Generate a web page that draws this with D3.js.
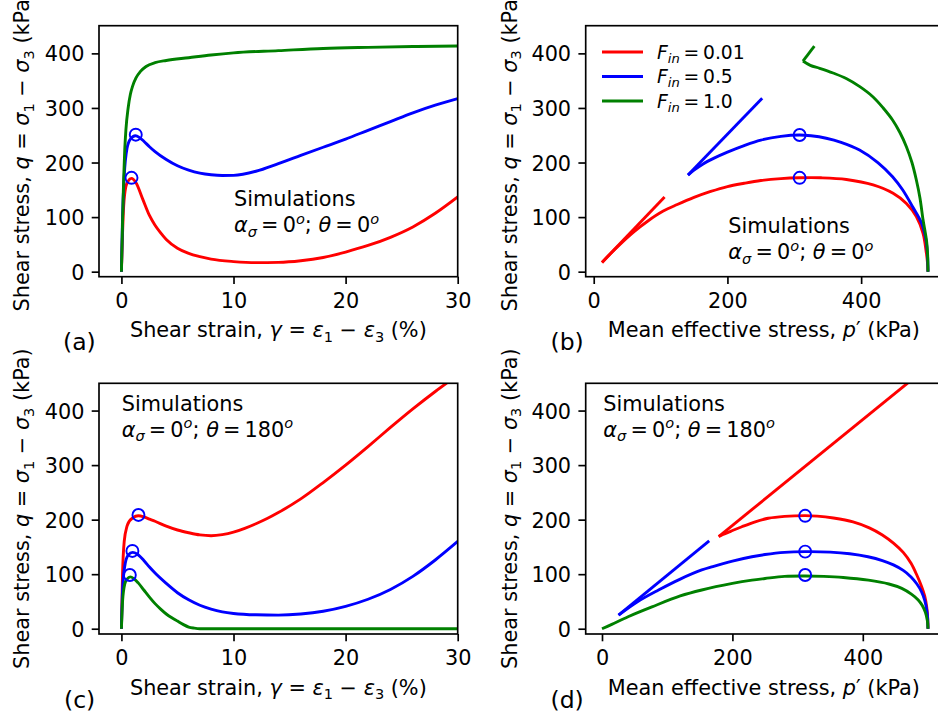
<!DOCTYPE html>
<html>
<head>
<meta charset="utf-8">
<script src="https://d3js.org/d3.v7.min.js"></script>
<style>
  body { margin: 0; background: #fff; }
  text { font-family: "DejaVu Sans", sans-serif; fill: #000; }
</style>
</head>
<body>
<svg id="chart" width="938" height="720"></svg>
<script>
//////////////////////////////////////////////
// Data //////////////////////////////////////
//////////////////////////////////////////////
var finValues = ["0.01", "0.5", "1.0"];
var qTicks = [0, 100, 200, 300, 400];
var strainTicks = [0, 10, 20, 30];
var pTicks = [0, 200, 400];

// (a) theta = 0, q vs shear strain
var strainA_red = [0, 0.1, 0.2, 0.4, 0.6, 0.9, 1.3, 1.9, 2.5, 3, 3.5, 4, 5, 6, 7, 8, 10, 12, 14, 16, 18, 20, 22, 24, 26, 28, 30];
var qA_red = [0, 70, 120, 156, 166, 171, 163, 133, 103, 85, 71, 59, 43, 33.5, 27.5, 23, 18.5, 16.5, 17, 20, 26, 36, 48, 63, 82, 107, 137];
var strainA_blue = [0, 0.1, 0.25, 0.5, 0.8, 1.25, 1.6, 2, 2.5, 3, 4, 5, 6, 7, 8, 9, 10, 12, 14, 16, 18, 20, 22, 24, 26, 28, 30];
var qA_blue = [0, 100, 175, 226, 243, 249, 246, 239, 229, 220, 205.5, 194, 186, 180.5, 177.5, 176.2, 176.5, 184, 198, 213, 228, 243, 259, 275, 291, 305, 317];
var strainA_green = [0, 0.1, 0.2, 0.3, 0.4, 0.6, 0.8, 1.0, 1.3, 1.7, 2.2, 3, 4, 6, 8, 10, 14, 18, 22, 26, 30];
var qA_green = [0, 90, 170, 225, 260, 300, 325, 340, 355, 367, 376, 383, 387, 392, 397, 401, 405, 409, 411, 412.5, 413.5];
var strainA_peak = [0.9, 1.28];
var qA_peak = [172, 251];

// (b) theta = 0, stress path
var pB_red = [500, 499, 497.6, 492.6, 482.6, 467.7, 447.8, 418, 378, 340, 308, 280, 250, 225, 200, 175, 150, 125, 104, 80, 60, 40, 25, 12.4, 106];
var qB_red = [0, 20, 34, 70, 101, 125, 143.6, 159, 169, 172, 172, 170.5, 167, 162, 156, 147, 136, 123, 111, 92, 73, 51, 33, 17, 137];
var pB_blue = [500, 499.5, 497, 490, 477, 462, 447, 425, 397.6, 370, 347.8, 325, 308, 280, 250, 225, 200, 180, 163, 150, 141, 252];
var qB_blue = [0, 25, 58, 90, 119, 150, 174, 200, 223, 237, 244.5, 249, 250.5, 248, 241, 231, 219, 208, 197, 186, 177, 317.7];
var pB_green = [500, 499.5, 498, 495, 492.6, 488, 482.6, 476, 467.7, 458, 447, 433, 417.5, 398, 377.7, 358, 338, 324, 313, 330];
var qB_green = [0, 30, 55, 78, 95, 135, 168, 200, 229, 255, 278, 300, 320.6, 339, 354, 364, 372.6, 378, 386, 413.5];
var pB_peak = [308, 308];
var qB_peak = [172, 250.5];

// (c) theta = 180, q vs shear strain
var strainC_red = [0, 0.1, 0.25, 0.5, 0.7, 1.0, 1.5, 2.0, 2.5, 3, 4, 5, 6, 7, 8, 9, 10, 11, 12, 13, 14, 16, 18, 20, 22, 24, 26, 28, 30];
var qC_red = [0, 100, 160, 188, 197, 203, 207, 205, 201, 197, 188, 181, 176, 172, 170.5, 172.5, 177, 184, 192.5, 202, 213, 238, 268, 300, 334, 369, 403, 435, 465];
var strainC_blue = [0, 0.1, 0.3, 0.6, 1.0, 1.4, 2, 2.5, 3, 4, 5, 6, 7, 8, 9, 10, 12, 14, 16, 18, 20, 22, 24, 26, 28, 30];
var qC_blue = [0, 70, 115, 135, 140, 137, 125, 113, 102, 83, 66, 53, 43, 36, 31, 28, 25.5, 25, 27, 32, 41, 54, 72, 96, 126, 160];
var strainC_green = [0, 0.1, 0.3, 0.5, 0.8, 1.1, 1.5, 2, 2.5, 3, 3.5, 4, 4.5, 5, 5.5, 6, 6.5, 7, 10, 15, 20, 25, 30];
var qC_green = [0, 50, 82, 91, 95, 92, 84, 71, 58, 46, 36, 27, 20, 14, 8, 3, 1, 0, 0, 0, 0, 0, 0];
var strainC_peak = [1.52, 0.98, 0.75];
var qC_peak = [208.6, 142.6, 98.5];

// (d) theta = 180, stress path
var pD_red = [500, 499.5, 498, 495, 490, 483, 474, 462, 447, 430, 410, 385, 355, 330, 311.6, 280, 255, 235, 214.5, 198, 184, 179, 481.8];
var qD_red = [0, 20, 40, 60, 78, 98, 120, 140, 157, 172, 185, 196, 203, 206.5, 207.4, 206, 202.5, 196, 187, 179, 172, 169, 463];
var pD_blue = [500, 499.5, 498, 495, 490, 483, 474, 462, 447, 430, 408, 380, 350, 311.6, 280, 250, 229.9, 200, 170, 153, 120, 86.7, 55, 25.4, 164.4];
var qD_blue = [0, 18, 35, 52, 68, 82, 95, 107, 117, 125, 132, 137.5, 140.5, 141.3, 140, 136, 132, 124, 114, 107.7, 91, 71, 50, 25, 161];
var pD_green = [500, 499, 496, 491, 485, 475, 459.8, 440, 408.6, 370, 340, 311.6, 280, 250, 230, 200, 153, 120, 76.6, 40, 15, 0];
var qD_green = [0, 15, 30, 43, 52.7, 63, 74, 82, 89, 94, 96, 96.7, 96, 92, 89, 83, 71, 60, 40, 22, 8, 0];
var pD_peak = [311.6, 311.6, 311.6];
var qD_peak = [207, 141.3, 98.5];

//////////////////////////////////////////////
// Chart Config /////////////////////////////
//////////////////////////////////////////////
var colors = ["#ff0000", "#0000ff", "#008000"];
var fs = 20.8;        // 10pt at 150 dpi
var legendFs = 18.75;
var tagFs = 23.5;
var lineW = 2.9;
var thin = "\u2009";

function zip(xs, ys) {
    return xs.map(function(x, i) { return {x: x, y: ys[i]}; });
}

var strainLabel = [["Shear strain, "], ["γ", "i"], [" = "], ["ε", "i"], ["1", "sub"], [" − "], ["ε", "i"], ["3", "sub"], [" (%)"]];
var pLabel = [["Mean effective stress, "], ["p", "i"], ["′"], [" (kPa)"]];
var qLabel = [["Shear stress, "], ["q", "i"], [" = "], ["σ", "i"], ["1", "sub"], [" − "], ["σ", "i"], ["3", "sub"], [" (kPa)"]];

var panels = [
    {tag: "(a)", kind: "strain", left: 99, right: 457.7, top: 25.7, bottom: 276.7,
     xDomain: [-2, 30], yDomain: [-9.2, 450.7], xTicks: strainTicks, xLabel: strainLabel,
     theta: "0", note: [234, 206], tagPos: [63, 350], yLabelX: 29.3,
     series: [zip(strainA_red, qA_red), zip(strainA_blue, qA_blue), zip(strainA_green, qA_green)],
     peaks: zip(strainA_peak, qA_peak)},
    {tag: "(b)", kind: "path", left: 585.7, right: 944.3, top: 25.7, bottom: 276.7,
     xDomain: [-12, 524.4], yDomain: [-9.2, 450.7], xTicks: pTicks, xLabel: pLabel,
     theta: "0", note: [728.3, 233.3], tagPos: [550.5, 350], yLabelX: 516.7, legend: true,
     series: [zip(pB_red, qB_red), zip(pB_blue, qB_blue), zip(pB_green, qB_green)],
     peaks: zip(pB_peak, qB_peak)},
    {tag: "(c)", kind: "strain", left: 99, right: 457.7, top: 383.3, bottom: 634,
     xDomain: [-2, 30], yDomain: [-9.7, 450], xTicks: strainTicks, xLabel: strainLabel,
     theta: "180", note: [121.7, 410.7], tagPos: [64, 708], yLabelX: 29.3,
     series: [zip(strainC_red, qC_red), zip(strainC_blue, qC_blue), zip(strainC_green, qC_green)],
     peaks: zip(strainC_peak, qC_peak)},
    {tag: "(d)", kind: "path", left: 585.7, right: 944.3, top: 383.3, bottom: 634,
     xDomain: [-25, 525], yDomain: [-9.7, 450], xTicks: pTicks, xLabel: pLabel,
     theta: "180", note: [603.3, 410.7], tagPos: [550.5, 708], yLabelX: 516.7,
     series: [zip(pD_red, qD_red), zip(pD_blue, qD_blue), zip(pD_green, qD_green)],
     peaks: zip(pD_peak, qD_peak)}
];

var svg = d3.select("#chart");

// mathtext-ish tspans: style "i" italic, "sub"/"isub" subscript, "isup" superscript
function richText(sel, parts, size) {
    var shift = 0;
    parts.forEach(function(p) {
        var s = p[1] || "";
        var t = sel.append("tspan").text(p[0]);
        var target = 0;
        if (s.indexOf("sub") >= 0) target = 0.22 * size;
        if (s.indexOf("sup") >= 0) target = -0.40 * size;
        if (target !== shift) { t.attr("dy", target - shift); shift = target; }
        if (target !== 0) t.attr("font-size", 0.7 * size);
        if (s.charAt(0) === "i") t.attr("font-style", "italic");
    });
}

//////////////////////////////////////////////
// Drawing ///////////////////////////////////
//////////////////////////////////////////////
panels.forEach(function(P, k) {
    var xScale = d3.scaleLinear().domain(P.xDomain).range([P.left, P.right]);
    var yScale = d3.scaleLinear().domain(P.yDomain).range([P.bottom, P.top]);

    var clipId = "clip" + k;
    svg.append("clipPath").attr("id", clipId)
        .append("rect")
        .attr("x", P.left).attr("y", P.top)
        .attr("width", P.right - P.left).attr("height", P.bottom - P.top);

    var g = svg.append("g");
    var plot = g.append("g").attr("clip-path", "url(#" + clipId + ")");

    var line = d3.line()
        .x(function(d) { return xScale(d.x); })
        .y(function(d) { return yScale(d.y); });

    P.series.forEach(function(s, i) {
        var pieces;
        if (P.kind === "strain") {
            line.curve(d3.curveMonotoneX);
            pieces = [s];
        } else {
            // stress path reverses at its smallest p: keep that corner sharp
            line.curve(d3.curveCatmullRom.alpha(0.5));
            var m = d3.minIndex(s, function(d) { return d.x; });
            pieces = [s.slice(0, m + 1), s.slice(m)];
        }
        pieces.forEach(function(piece) {
            if (piece.length < 2) return;
            plot.append("path")
                .attr("d", line(piece))
                .attr("fill", "none")
                .attr("stroke", colors[i])
                .attr("stroke-width", lineW)
                .attr("stroke-linejoin", "round");
        });
    });

    plot.selectAll("circle.peak")
        .data(P.peaks)
        .enter().append("circle")
        .attr("class", "peak")
        .attr("cx", function(d) { return xScale(d.x); })
        .attr("cy", function(d) { return yScale(d.y); })
        .attr("r", 6)
        .attr("fill", "none")
        .attr("stroke", "#0000ff")
        .attr("stroke-width", 1.9);

    // frame
    g.append("rect")
        .attr("x", P.left).attr("y", P.top)
        .attr("width", P.right - P.left).attr("height", P.bottom - P.top)
        .attr("fill", "none").attr("stroke", "#000").attr("stroke-width", 1.67);

    // axes
    var xAxis = d3.axisBottom(xScale).tickValues(P.xTicks).tickSize(7.3).tickPadding(9)
        .tickFormat(d3.format("d"));
    var yAxis = d3.axisLeft(yScale).tickValues(qTicks).tickSize(7.3).tickPadding(7.3)
        .tickFormat(d3.format("d"));

    var xg = g.append("g").attr("transform", "translate(0," + P.bottom + ")").call(xAxis);
    var yg = g.append("g").attr("transform", "translate(" + P.left + ",0)").call(yAxis);
    [xg, yg].forEach(function(a) {
        a.attr("font-size", fs).attr("font-family", "DejaVu Sans");
        a.select(".domain").remove();
        a.selectAll(".tick line").attr("stroke", "#000").attr("stroke-width", 1.67);
        a.selectAll(".tick text").attr("fill", "#000");
    });
    yg.selectAll(".tick text").attr("dy", "0.36em");

    // axis labels
    var xl = g.append("text")
        .attr("x", (P.left + Math.min(P.right, 938)) / 2 + (P.kind === "path" ? 2 : 0))
        .attr("y", P.bottom + 60.5)
        .attr("text-anchor", "middle")
        .attr("font-size", fs);
    richText(xl, P.xLabel, fs);

    var yl = g.append("text")
        .attr("transform", "translate(" + P.yLabelX + "," + (P.top + P.bottom) / 2 + ") rotate(-90)")
        .attr("text-anchor", "middle")
        .attr("font-size", fs);
    richText(yl, qLabel, fs);

    // panel tag
    g.append("text")
        .attr("x", P.tagPos[0]).attr("y", P.tagPos[1])
        .attr("font-size", tagFs)
        .text(P.tag);

    // annotation
    g.append("text")
        .attr("x", P.note[0]).attr("y", P.note[1])
        .attr("font-size", fs)
        .text("Simulations");
    var n2 = g.append("text")
        .attr("x", P.note[0]).attr("y", P.note[1] + 26)
        .attr("font-size", fs);
    richText(n2, [["α", "i"], ["σ", "isub"], [thin + "=" + thin + "0"], ["o", "isup"], ["; "],
                  ["θ", "i"], [thin + "=" + thin + P.theta], ["o", "isup"]], fs);

    // legend
    if (P.legend) {
        var lg = g.append("g");
        finValues.forEach(function(v, i) {
            var ly = 52 + i * 24.5;
            lg.append("line")
                .attr("x1", 602).attr("x2", 643)
                .attr("y1", ly).attr("y2", ly)
                .attr("stroke", colors[i]).attr("stroke-width", lineW);
            var t = lg.append("text")
                .attr("x", 657).attr("y", ly + 6.5)
                .attr("font-size", legendFs);
            richText(t, [["F", "i"], ["in", "isub"], [thin + "=" + thin + v]], legendFs);
        });
    }
});
</script>
</body>
</html>
